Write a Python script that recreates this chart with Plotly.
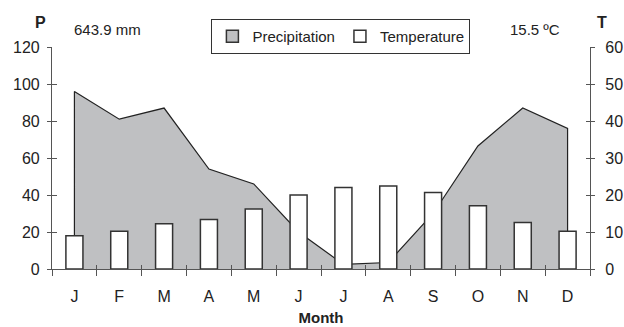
import plotly.graph_objects as go

months = ["J", "F", "M", "A", "M", "J", "J", "A", "S", "O", "N", "D"]
precip = [96, 81, 87, 54, 46, 20, 2.5, 3.5, 30, 66.5, 87, 76]
temp = [9, 10.2, 12.2, 13.4, 16.2, 20, 22, 22.4, 20.7, 17.1, 12.6, 10.2]
p_ticks = [0, 20, 40, 60, 80, 100, 120]
t_ticks = [0, 10, 20, 30, 40, 50, 60]
total_label = "643.9 mm"
mean_label = "15.5 ºC"

FONT = "Liberation Sans, Arial, sans-serif"
AX = "#555555"
TXT = "#222222"

idx = list(range(len(months)))
bounds = [i - 0.5 for i in range(len(months) + 1)]
xr = [-0.5, len(months) - 0.5]

fig = go.Figure()

# precipitation area (closed down to zero at both ends)
px = [idx[0]] + idx + [idx[-1]]
py = [0] + precip + [0]
fig.add_trace(go.Scatter(x=px, y=py, mode="lines", fill="tozeroy",
                         fillcolor="#bfc0c2", line=dict(color="#222222", width=1.2),
                         showlegend=False, hoverinfo="skip", xaxis="x", yaxis="y"))
# legend stand-ins
fig.add_trace(go.Bar(x=[None], y=[None], name="Precipitation",
                     marker=dict(color="#bfc0c2", line=dict(color="#333333", width=1.5)),
                     xaxis="x", yaxis="y"))
# temperature bars
fig.add_trace(go.Bar(x=idx, y=temp, name="Temperature", width=0.38,
                     marker=dict(color="white", line=dict(color="#333333", width=1.5)),
                     xaxis="x", yaxis="y2"))
# dummy traces for overlay tick axes
for xa, ya in [("x2", "y"), ("x3", "y"), ("x", "y3"), ("x", "y4")]:
    fig.add_trace(go.Scatter(x=[None], y=[None], mode="lines", showlegend=False,
                             hoverinfo="skip", xaxis=xa, yaxis=ya))

tickfont = dict(family=FONT, size=16, color=TXT)

fig.update_layout(
    width=624, height=327,
    margin=dict(l=52, r=34, t=47, b=58, autoexpand=False),
    paper_bgcolor="white", plot_bgcolor="white",
    font=dict(family=FONT, color=TXT),
    barmode="overlay",
    xaxis=dict(range=xr, tickvals=idx, ticktext=months, ticks="", showline=True,
               linecolor=AX, linewidth=1.2, showgrid=False, zeroline=False,
               tickfont=tickfont, ticklabelstandoff=13, automargin=False,
               title=dict(text="<b>Month</b>", font=dict(family=FONT, size=15, color=TXT), standoff=8)),
    xaxis2=dict(range=xr, overlaying="x", anchor="y", tickvals=bounds, ticks="outside",
                ticklen=6, tickcolor=AX, tickwidth=1.2, showticklabels=False,
                showgrid=False, zeroline=False, showline=False),
    xaxis3=dict(range=xr, overlaying="x", anchor="y", tickvals=bounds, ticks="inside",
                ticklen=4, tickcolor=AX, tickwidth=1.2, showticklabels=False,
                showgrid=False, zeroline=False, showline=False),
    yaxis=dict(range=[0, 120], tickvals=p_ticks, ticks="outside", ticklen=4,
               tickcolor=AX, tickwidth=1.2, showline=True, linecolor=AX, linewidth=1.2,
               showgrid=False, zeroline=False, tickfont=tickfont, ticklabelstandoff=4,
               automargin=False),
    yaxis2=dict(range=[0, 60], tickvals=t_ticks, overlaying="y", side="right", anchor="x",
                ticks="outside", ticklen=4, tickcolor=AX, tickwidth=1.2, showline=True,
                linecolor=AX, linewidth=1.2, showgrid=False, zeroline=False, tickfont=tickfont,
                ticklabelstandoff=7, automargin=False),
    yaxis3=dict(range=[0, 120], tickvals=p_ticks, overlaying="y", side="left", anchor="x",
                ticks="inside", ticklen=5, tickcolor=AX, tickwidth=1.2, showticklabels=False,
                showgrid=False, zeroline=False, showline=False),
    yaxis4=dict(range=[0, 60], tickvals=t_ticks, overlaying="y", side="right", anchor="x",
                ticks="inside", ticklen=4, tickcolor=AX, tickwidth=1.2, showticklabels=False,
                showgrid=False, zeroline=False, showline=False),
    legend=dict(orientation="h", x=0.537, xanchor="center", y=1.126, yanchor="top",
                bgcolor="white", bordercolor="#333333", borderwidth=1,
                font=dict(family=FONT, size=15, color=TXT), itemwidth=30,
                traceorder="normal"),
    annotations=[
        dict(text="<b>P</b>", x=-0.022, y=1.112, xref="paper", yref="paper",
             xanchor="center", yanchor="middle",
             showarrow=False, font=dict(family=FONT, size=16, color=TXT)),
        dict(text="<b>T</b>", x=1.022, y=1.112, xref="paper", yref="paper",
             xanchor="center", yanchor="middle",
             showarrow=False, font=dict(family=FONT, size=16, color=TXT)),
        dict(text=total_label, x=0.037, y=1.081, xref="paper", yref="paper",
             xanchor="left", yanchor="middle",
             showarrow=False, font=dict(family=FONT, size=15, color=TXT)),
        dict(text=mean_label, x=0.847, y=1.081, xref="paper", yref="paper",
             xanchor="left", yanchor="middle",
             showarrow=False, font=dict(family=FONT, size=15, color=TXT)),
    ],
)

fig.write_html("out.html")
